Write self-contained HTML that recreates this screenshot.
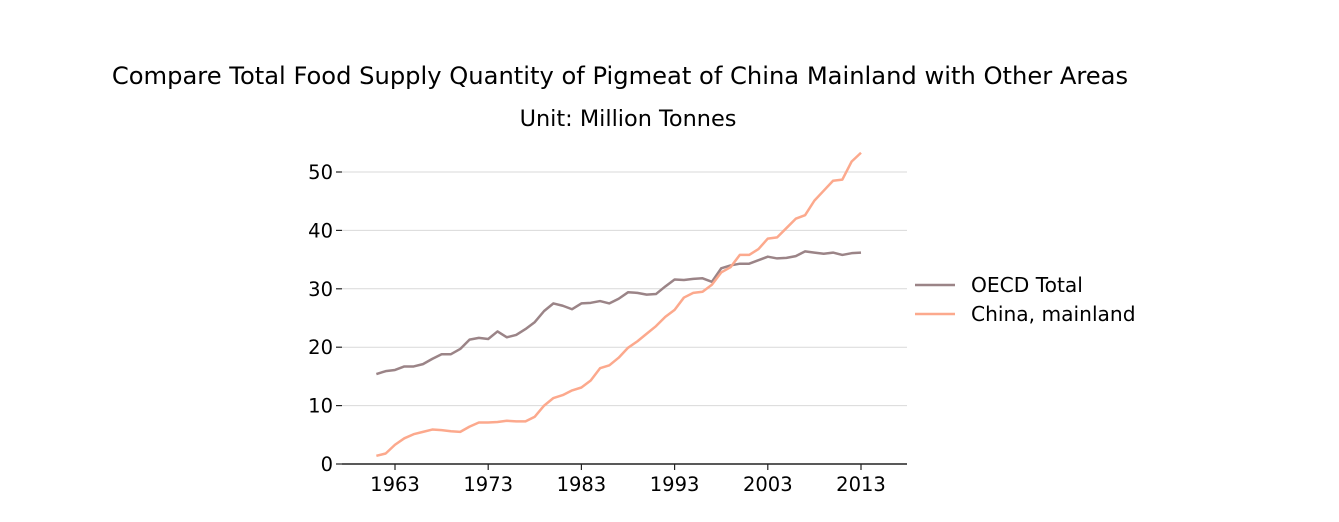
<!DOCTYPE html>
<html><head><meta charset="utf-8"><style>
body{margin:0;background:#fff;font-family:"DejaVu Sans","Liberation Sans",sans-serif}
</style></head><body>
<svg width="1339" height="518" font-family="DejaVu Sans, Liberation Sans, sans-serif">
<text x="620" y="84" text-anchor="middle" font-size="24.2">Compare Total Food Supply Quantity of Pigmeat of China Mainland with Other Areas</text>
<text x="628" y="126" text-anchor="middle" font-size="22.4">Unit: Million Tonnes</text>
<g id="grid"></g><g id="axes"></g><g id="lines"></g>
<g>
<line x1="915" y1="285" x2="955" y2="285" stroke="#9b8487" stroke-width="2.5"/>
<text x="971" y="292" font-size="20.2">OECD Total</text>
<line x1="915" y1="314" x2="955" y2="314" stroke="#fca98d" stroke-width="2.5"/>
<text x="971" y="321" font-size="20.2">China, mainland</text>
</g>
</svg>
<script>
const years=[];for(let y=1961;y<=2013;y++)years.push(y);
const oecd=[15.4,15.9,16.1,16.7,16.7,17.1,18.0,18.8,18.8,19.7,21.3,21.6,21.4,22.7,21.7,22.1,23.1,24.3,26.2,27.5,27.1,26.5,27.5,27.6,27.9,27.5,28.3,29.4,29.3,29.0,29.1,30.4,31.6,31.5,31.7,31.8,31.2,33.5,34.0,34.3,34.3,34.9,35.5,35.2,35.3,35.6,36.4,36.2,36.0,36.2,35.8,36.1,36.2];
const china=[1.4,1.8,3.3,4.4,5.1,5.5,5.9,5.8,5.6,5.5,6.4,7.1,7.1,7.2,7.4,7.3,7.3,8.1,10.0,11.3,11.8,12.6,13.1,14.3,16.4,16.9,18.2,19.9,21.0,22.3,23.6,25.2,26.4,28.5,29.3,29.5,30.7,32.8,33.7,35.8,35.8,36.8,38.6,38.8,40.4,42.0,42.6,45.1,46.8,48.5,48.7,51.8,53.3];
const yTicks=[0,10,20,30,40,50];
const xTicks=[1963,1973,1983,1993,2003,2013];
const NS="http://www.w3.org/2000/svg";
const X=v=>395+(v-1963)*(861-395)/50;
const Y=v=>464-v*(464-172)/50;
function mk(t,a,p){const e=document.createElementNS(NS,t);for(const k in a)e.setAttribute(k,a[k]);p.appendChild(e);return e;}
const grid=document.getElementById('grid'),axes=document.getElementById('axes'),lines=document.getElementById('lines');
yTicks.forEach(v=>{
 if(v>0){const g=mk('line',{x1:342,x2:907,y1:Y(v),y2:Y(v),stroke:'#d9d9d9','stroke-width':1},grid);
 
 }
 mk('line',{x1:336,x2:342,y1:Y(v),y2:Y(v),stroke:'#222','stroke-width':1.2},axes);
 const t=mk('text',{x:333,y:Y(v)+7,'text-anchor':'end','font-size':19.5},axes);t.textContent=v;
 
 
});
const ax=mk('line',{x1:342,x2:907,y1:464,y2:464,stroke:'#222','stroke-width':1.5},axes);


xTicks.forEach(v=>{
 mk('line',{x1:X(v),x2:X(v),y1:464,y2:470,stroke:'#222','stroke-width':1.2},axes);
 const t=mk('text',{x:X(v),y:491,'text-anchor':'middle','font-size':19.5},axes);t.textContent=v;
 
 
});
function line(d,c,n){const p=mk('polyline',{points:d.map((v,i)=>X(years[i])+','+Y(v)).join(' '),fill:'none',stroke:c,'stroke-width':2.5,'stroke-linejoin':'round'},lines);
 
 }
line(oecd,'#9b8487','oecd-line');
line(china,'#fca98d','china-line');
</script>
</body></html>
